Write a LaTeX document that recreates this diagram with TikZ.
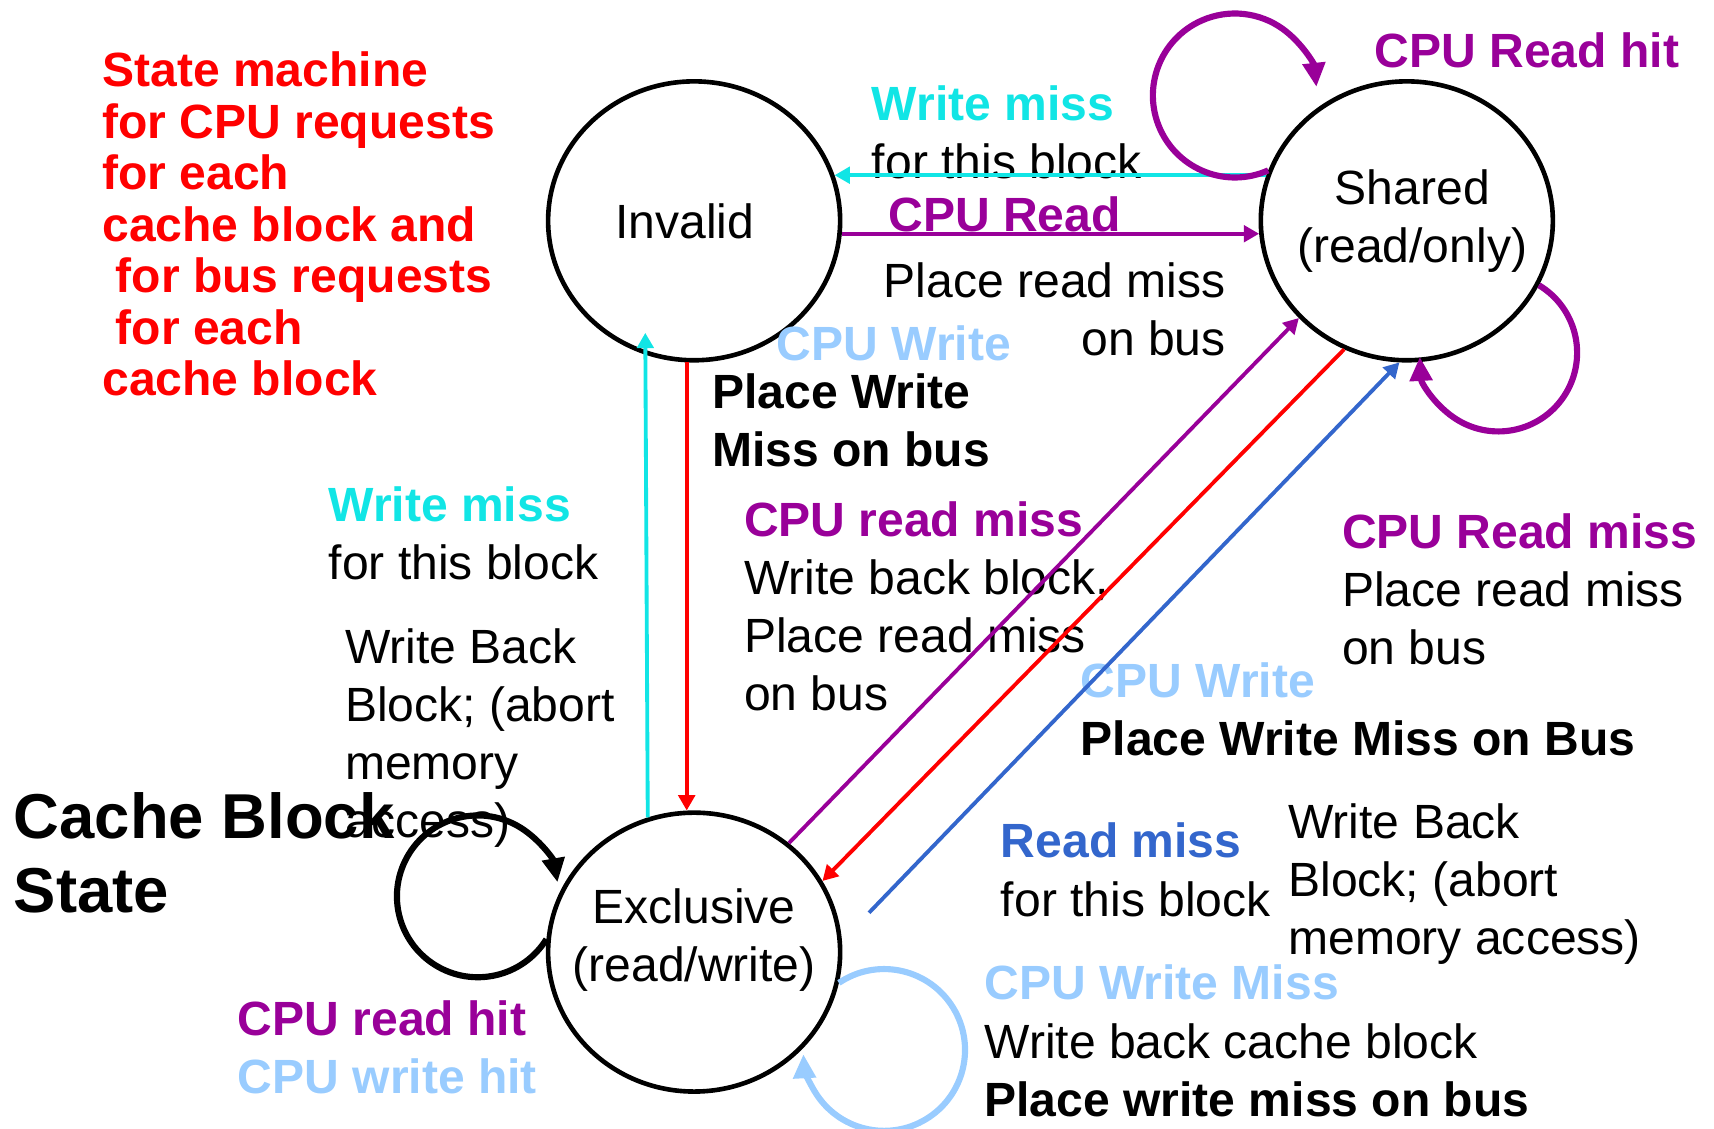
\documentclass[tikz,border=0pt]{standalone}
\usepackage{fontspec}
\setmainfont{Liberation Sans}
\usepackage{tikz}
\usepackage{xcolor}
\usetikzlibrary{arrows.meta, shapes.geometric}
\definecolor{PPT_Red}{HTML}{FF0000}
\definecolor{PPT_Purple}{HTML}{990099}
\definecolor{PPT_Cyan}{HTML}{11E5E5}
\definecolor{PPT_Sky}{HTML}{99CCFF}
\definecolor{PPT_Blue}{HTML}{3366CC}

\begin{document}
\begin{tikzpicture}[x=0.01cm, y=0.01cm,
    statenode/.style={draw, ellipse, line width=1.2pt, minimum width=2.67cm, minimum height=2.55cm, inner xsep=-1cm, inner ysep=-0.3cm, align=center, font=\fontsize{12.5}{15.1}\selectfont},
    txt/.style={anchor=base west, inner sep=0pt, align=left, font=\fontsize{12.5}{15.1}\selectfont},
    hdr/.style={txt, font=\fontsize{12.5}{15.1}\selectfont\bfseries},
    trans/.style={line width=1pt, -{Triangle[length=0.14cm, width=0.15cm]}},
    selfloop/.style={line width=1.6pt, -{Triangle[length=0.22cm, width=0.2cm]}}]
    \useasboundingbox (0,0) rectangle (1568,-1032);

    % States
    \node[statenode] (invalid) at (635,-202) {Invalid\hspace*{0.17cm}};
    \node[statenode] (shared) at (1287,-202) {\hspace*{0.1cm}Shared\\\hspace*{0.1cm}(read/only)};
    \node[statenode, text depth=0.31cm] (exclusive) at (635,-871) {Exclusive\\(read/write)};

    % Legend and title (multi-line texts sit on their last baseline)
    \node[txt, PPT_Red, font=\fontsize{12.5}{13.4}\selectfont\bfseries] (legend) at (93,-362)
        {State machine\\for CPU requests\\for each\\cache block and\\\ for bus requests\\\ for each\\cache block};
    \node[txt, font=\fontsize{16.5}{19.4}\selectfont\bfseries] (title) at (12,-835) {Cache Block\\State};

    % Labels round Invalid and Shared
    \node[hdr, PPT_Purple] (rdhit) at (1257,-62) {CPU Read hit};
    \node[txt] (wmissS) at (797,-163) {\textcolor{PPT_Cyan}{\bfseries Write miss}\\for this block};
    \node[hdr, PPT_Purple] (cpurd) at (812,-212) {CPU Read};
    \node[txt, anchor=base east, align=right] (rdbus) at (1122,-325) {Place read miss\\on bus};
    \node[hdr, PPT_Sky] (cpuwrI) at (710,-330) {CPU Write};
    \node[hdr] (wrbusI) at (651,-427) {Place Write\\Miss on bus};
    \node[txt] (rdmissS) at (1227,-608) {\textcolor{PPT_Purple}{\bfseries CPU Read miss}\\Place read miss\\on bus};

    % Labels round Exclusive
    \node[txt] (wmissE) at (300,-530) {\textcolor{PPT_Cyan}{\bfseries Write miss}\\for this block};
    \node[txt] (wbackL) at (315,-766) {Write Back\\Block; (abort\\memory\\access)};
    \node[txt] (rdmissE) at (680,-650) {\textcolor{PPT_Purple}{\bfseries CPU read miss}\\Write back block,\\Place read miss\\on bus};
    \node[hdr] (cpuwrS) at (988,-691) {\textcolor{PPT_Sky}{CPU Write}\\Place Write Miss on Bus};
    \node[txt] (rdmissB) at (915,-838) {\textcolor{PPT_Blue}{\bfseries Read miss}\\for this block};
    \node[txt] (wbackR) at (1178,-873) {Write Back\\Block; (abort\\memory access)};
    \node[txt] (wrmiss) at (900,-1021) {\textcolor{PPT_Sky}{\bfseries CPU Write Miss}\\Write back cache block\\\textbf{Place write miss on bus}};
    \node[hdr] (hits) at (217,-1000) {\textcolor{PPT_Purple}{CPU read hit}\\\textcolor{PPT_Sky}{CPU write hit}};

    % Invalid <-> Shared
    \draw[trans, PPT_Cyan] (shared.162) -- (invalid.18);
    \draw[trans, PPT_Purple] (invalid.-5.5) -- (shared.185.5);

    % Invalid <-> Exclusive
    \draw[trans, PPT_Cyan, shorten >=-0.2cm] (exclusive.109.5) -- (invalid.250.5);
    \draw[trans, PPT_Red] (invalid.267) -- (exclusive.93);

    % Exclusive <-> Shared
    \coordinate (rdstart) at (795,-835);
    \draw[trans, PPT_Purple] (exclusive.49) -- (shared.222);
    \draw[trans, PPT_Red] (shared.244) -- (exclusive.29);
    \draw[trans, PPT_Blue] (rdstart) -- (shared.267);

    % Self loops
    \draw[selfloop, PPT_Purple] (shared.160) arc[start angle=-66, end angle=-354, radius=75];
    \draw[selfloop, PPT_Purple] (shared.-26) arc[start angle=59, end angle=-177, radius=72];
    \draw[selfloop] (exclusive.175) arc[start angle=-32, end angle=-350, radius=74];
    \draw[selfloop, PPT_Sky] (exclusive.-12) arc[start angle=124, end angle=-177, radius=74];
\end{tikzpicture}
\end{document}
